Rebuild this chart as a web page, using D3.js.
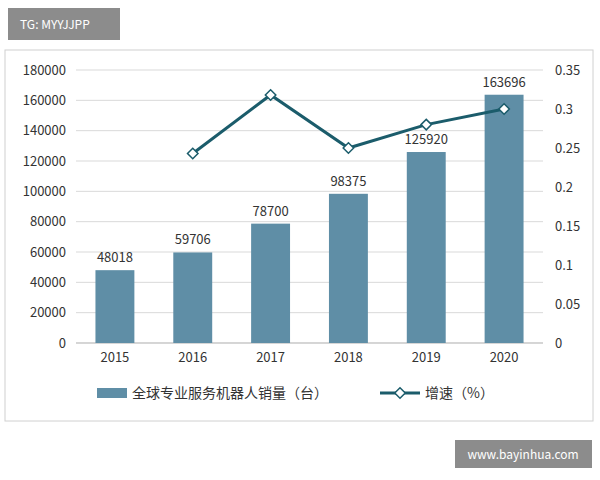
<!DOCTYPE html><html><head><meta charset="utf-8">
<script src="https://cdn.jsdelivr.net/npm/d3@7"></script>
<style>body{margin:0;background:#fff}text{font-family:"Noto Sans CJK SC","Noto Sans",sans-serif}</style></head><body>
<svg id="c" width="600" height="480"></svg>
<script>
const years=["2015","2016","2017","2018","2019","2020"];
const sales=[48018,59706,78700,98375,125920,163696];
const growth=[null,0.243,0.318,0.25,0.28,0.30];
const leftTicks=[0,20000,40000,60000,80000,100000,120000,140000,160000,180000];
const rightTicks=[0,0.05,0.1,0.15,0.2,0.25,0.3,0.35];
const svg=d3.select("#c");
svg.append("rect").attr("x",5).attr("y",50).attr("width",588).attr("height",371).attr("fill","#fff").attr("stroke","#d0d0d0");
svg.append("rect").attr("x",8).attr("y",8).attr("width",112).attr("height",32).attr("fill","#8c8c8c");
svg.append("text").attr("x",20).attr("y",29).attr("fill","#fff").attr("font-size",12).text("TG: MYYJJPP");
svg.append("rect").attr("x",455).attr("y",440).attr("width",137).attr("height",28).attr("fill","#8c8c8c");
svg.append("text").attr("x",523).attr("y",459).attr("fill","#fff").attr("font-size",12).attr("text-anchor","middle").text("www.bayinhua.com");
const L=76,R=543,T=70,B=343;
const x=d3.scaleBand().domain(years).range([L,R]).paddingInner(0.5).paddingOuter(0.25);
const y=d3.scaleLinear().domain([0,180000]).range([B,T]);
const y2=d3.scaleLinear().domain([0,0.35]).range([B,T]);
svg.append("g").selectAll("line").data(leftTicks).join("line").attr("x1",L).attr("x2",R).attr("y1",d=>y(d)).attr("y2",d=>y(d)).attr("stroke","#d9d9d9");
const ga=svg.append("g").attr("transform",`translate(${L},0)`).call(d3.axisLeft(y).tickValues(leftTicks).tickSize(0).tickPadding(10).tickFormat(d3.format("d")));
const gb=svg.append("g").attr("transform",`translate(${R},0)`).call(d3.axisRight(y2).tickValues(rightTicks).tickSize(0).tickPadding(12).tickFormat(d=>d===0?"0":String(+d.toFixed(2))));
const gx=svg.append("g").attr("transform",`translate(0,${B})`).call(d3.axisBottom(x).tickSize(0).tickPadding(10));
[ga,gb,gx].forEach(g=>{g.select(".domain").remove();g.selectAll("text").attr("font-size",13).attr("fill","#333")});
svg.append("line").attr("x1",L).attr("x2",R).attr("y1",B).attr("y2",B).attr("stroke","#bfbfbf");
svg.selectAll(".bar").data(years).join("rect").attr("x",d=>x(d)).attr("width",x.bandwidth()).attr("y",(d,i)=>y(sales[i])).attr("height",(d,i)=>B-y(sales[i])).attr("fill","#5f8ea6");
svg.selectAll(".lbl").data(years).join("text").attr("x",d=>x(d)+x.bandwidth()/2).attr("y",(d,i)=>y(sales[i])-8).attr("text-anchor","middle").attr("font-size",13).attr("fill","#333").text((d,i)=>sales[i]);
const pts=years.map((d,i)=>[x(d)+x.bandwidth()/2,growth[i]]).filter(p=>p[1]!=null);
svg.append("path").attr("d",d3.line().x(p=>p[0]).y(p=>y2(p[1]))(pts)).attr("fill","none").attr("stroke","#1b5c6b").attr("stroke-width",3);
svg.selectAll(".mk").data(pts).join("path").attr("d",d3.symbol(d3.symbolDiamond2,70)).attr("transform",p=>`translate(${p[0]},${y2(p[1])})`).attr("fill","#fff").attr("stroke","#1b5c6b").attr("stroke-width",1.5);
svg.append("rect").attr("x",97).attr("y",388).attr("width",30).attr("height",10).attr("fill","#5f8ea6");
svg.append("text").attr("x",132).attr("y",398).attr("font-size",14).attr("fill","#333").text("全球专业服务机器人销量（台）");
svg.append("line").attr("x1",380).attr("x2",420).attr("y1",393).attr("y2",393).attr("stroke","#1b5c6b").attr("stroke-width",3);
svg.append("path").attr("d",d3.symbol(d3.symbolDiamond2,70)).attr("transform","translate(400,393)").attr("fill","#fff").attr("stroke","#1b5c6b").attr("stroke-width",1.5);
svg.append("text").attr("x",425).attr("y",398).attr("font-size",14).attr("fill","#333").text("增速（%）");
</script></body></html>
